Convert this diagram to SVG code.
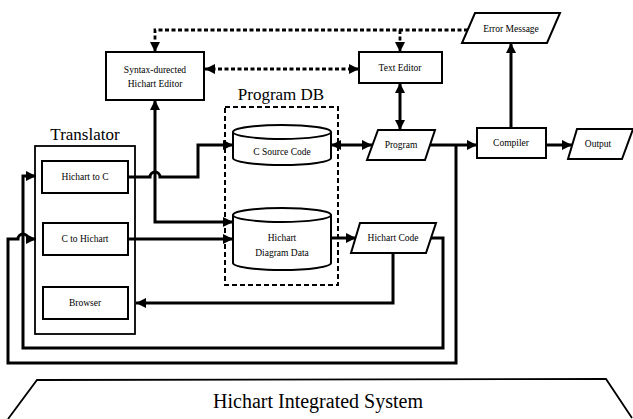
<svg xmlns="http://www.w3.org/2000/svg" width="633" height="419" viewBox="0 0 633 419">
<style>
.box{fill:#fff;stroke:#000;stroke-width:2}
.grp{fill:none;stroke:#000;stroke-width:1.8}
.db{fill:none;stroke:#000;stroke-width:2;stroke-dasharray:5,3}
.t{font-family:"Liberation Serif",serif;font-size:9.5px;text-anchor:middle;fill:#000}
.big{font-family:"Liberation Serif",serif;font-size:17px;text-anchor:middle;fill:#000}
.c{fill:none;stroke:#000;stroke-width:3}
.d{fill:none;stroke:#000;stroke-width:2.8;stroke-dasharray:4,2.5}
</style>
<defs>
<marker id="ah" markerUnits="userSpaceOnUse" viewBox="0 0 10 10" refX="10" refY="5" markerWidth="11" markerHeight="10" orient="auto-start-reverse">
<path d="M0,0 L10,5 L0,10 Z" fill="#000"/>
</marker>
</defs>
<rect width="633" height="419" fill="#fff"/>

<g id="connectors">
<path class="c" d="M128,177 L150,177 A5,5 0 0 1 160,177 L198,177 L198,145 L233,145" marker-end="url(#ah)"/>
<path class="c" d="M155,100 L155,222 L233,222" marker-start="url(#ah)" marker-end="url(#ah)"/>
<path class="c" d="M128,239 L233,239" marker-end="url(#ah)"/>
<path class="c" d="M331,145 L372,145" marker-start="url(#ah)" marker-end="url(#ah)"/>
<path class="c" d="M400,83 L400,130" marker-start="url(#ah)" marker-end="url(#ah)"/>
<path class="c" d="M430,145 L477,145" marker-end="url(#ah)"/>
<path class="c" d="M511,128 L511,43" marker-end="url(#ah)"/>
<path class="c" d="M546,145 L572,145" marker-end="url(#ah)"/>
<path class="c" d="M331,238 L356,238" marker-end="url(#ah)"/>
<path class="c" d="M393,253 L393,303 L136,303" marker-end="url(#ah)"/>
<path class="c" d="M431,238 L443,238 L443,348 L23,348 L23,176 L36,176" marker-end="url(#ah)"/>
<path class="c" d="M456,145 L456,363 L8,363 L8,239 L18,239 A5,5 0 0 1 28,239 L36,239" marker-end="url(#ah)"/>
<path class="d" d="M468,30 L155,30 L155,52" marker-end="url(#ah)"/>
<path class="d" d="M400,30 L400,52" marker-end="url(#ah)"/>
<path class="d" d="M205,69 L359,69" marker-start="url(#ah)" marker-end="url(#ah)"/>
</g>

<g id="editor">
<rect class="box" x="106" y="52" width="98" height="48"/>
<text class="t" x="155" y="73">Syntax-durected</text>
<text class="t" x="155" y="87">Hichart Editor</text>
</g>

<g id="texteditor">
<rect class="box" x="359" y="52" width="83" height="31"/>
<text class="t" x="400" y="71">Text Editor</text>
</g>

<g id="errormessage">
<polygon class="box" points="475,13 560,13 547,43 462,43"/>
<text class="t" x="511" y="32">Error Message</text>
</g>

<g id="translator">
<rect class="grp" x="35" y="146" width="100" height="188"/>
<text class="big" x="85" y="140">Translator</text>
</g>

<g id="hichart2c">
<rect class="box" x="42" y="161" width="86" height="32"/>
<text class="t" x="85" y="180">Hichart to C</text>
</g>

<g id="c2hichart">
<rect class="box" x="43" y="223" width="85" height="32"/>
<text class="t" x="85" y="242">C to Hichart</text>
</g>

<g id="browser">
<rect class="box" x="43" y="287" width="85" height="32"/>
<text class="t" x="85" y="306">Browser</text>
</g>

<g id="programdb">
<rect class="db" x="225" y="107" width="113" height="178"/>
<text class="big" x="281" y="100">Program DB</text>
</g>

<g id="csource">
<path class="box" d="M233,132 A49,7 0 0 1 331,132 L331,158 A49,7 0 0 1 233,158 Z"/>
<path class="grp" d="M233,132 A49,7 0 0 0 331,132"/>
<text class="t" x="282" y="155">C Source Code</text>
</g>

<g id="diagramdata">
<path class="box" d="M233,215 A49,7 0 0 1 331,215 L331,263 A49,7 0 0 1 233,263 Z"/>
<path class="grp" d="M233,215 A49,7 0 0 0 331,215"/>
<text class="t" x="282" y="241">Hichart</text>
<text class="t" x="282" y="256">Diagram Data</text>
</g>

<g id="program">
<polygon class="box" points="378,130 435,130 425,160 367,160"/>
<text class="t" x="401" y="148">Program</text>
</g>

<g id="hichartcode">
<polygon class="box" points="360,223 436,223 426,253 351,253"/>
<text class="t" x="393" y="241">Hichart Code</text>
</g>

<g id="compiler">
<rect class="box" x="477" y="128" width="69" height="30"/>
<text class="t" x="511" y="146">Compiler</text>
</g>

<g id="output">
<polygon class="box" points="577,129 633,129 622,159 568,159"/>
<text class="t" x="598" y="147">Output</text>
</g>

<g id="system">
<path class="grp" d="M8,419 L37,380 L606,379 L632,418"/>
<text class="big" x="318" y="408" style="font-size:20px">Hichart Integrated System</text>
</g>
</svg>
